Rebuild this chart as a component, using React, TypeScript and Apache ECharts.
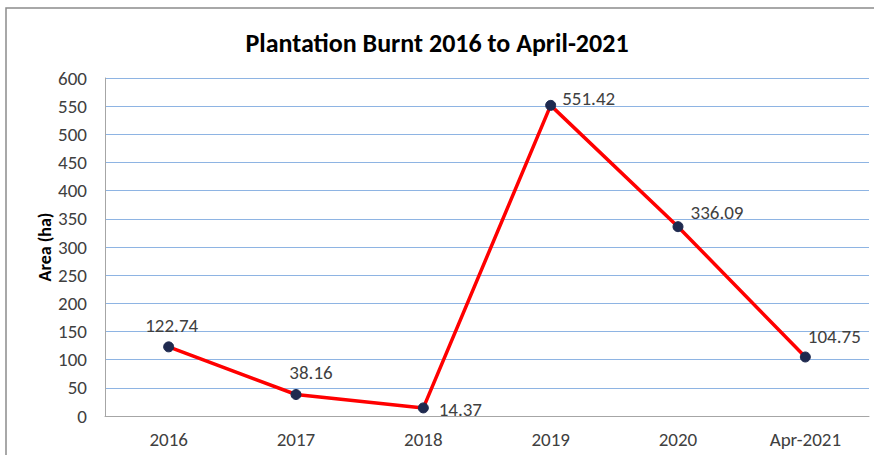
import React, { useEffect, useRef } from "react";
import * as echarts from "echarts";

const categories = ["2016", "2017", "2018", "2019", "2020", "Apr-2021"];
const areaValues = [122.74, 38.16, 14.37, 551.42, 336.09, 104.75];
const yTicks = [0, 50, 100, 150, 200, 250, 300, 350, 400, 450, 500, 550, 600];

// label offsets (styling), relative to each point
const labelOffsets: [number, number][] = [
  [3, -21],
  [15, -22],
  [37, 2],
  [38, -7],
  [39, -14],
  [29, -20],
];

const FONT = "Carlito, 'Liberation Sans', Arial, sans-serif";

export default function App() {
  const ref = useRef<HTMLDivElement>(null);
  useEffect(() => {
    document.body.style.margin = "0";
    if (!ref.current) return;
    const chart = echarts.init(ref.current, undefined, { renderer: "svg" });
    chart.setOption({
      animation: false,
      backgroundColor: "#ffffff",
      title: {
        text: "Plantation Burnt 2016 to April-2021",
        left: "center",
        top: 25,
        textStyle: { fontFamily: FONT, fontSize: 26, fontWeight: "bold", color: "#000000" },
      },
      graphic: [
        {
          type: "rect",
          shape: { x: 6, y: 8, width: 900, height: 500 },
          style: { fill: "none", stroke: "#8c8c8c", lineWidth: 1.5 },
          silent: true,
        },
      ],
      grid: { left: 105, right: 5, top: 78, bottom: 39 },
      xAxis: {
        type: "category",
        data: categories,
        boundaryGap: true,
        axisLine: { show: true, lineStyle: { color: "#a6a6a6", width: 1 } },
        axisTick: { show: false },
        axisLabel: { fontFamily: FONT, fontSize: 19, color: "#404040", margin: 14 },
        splitLine: { show: false },
      },
      yAxis: {
        type: "value",
        min: yTicks[0],
        max: yTicks[yTicks.length - 1],
        interval: yTicks[1] - yTicks[0],
        name: "Area (ha)",
        nameLocation: "middle",
        nameGap: 51,
        nameMoveOverlap: false,
        nameRotate: 90,
        nameTextStyle: { fontFamily: FONT, fontSize: 18, fontWeight: "bold", color: "#000000" },
        axisLine: { show: true, lineStyle: { color: "#a6a6a6", width: 1 } },
        axisTick: { show: false },
        axisLabel: { fontFamily: FONT, fontSize: 19, color: "#404040", margin: 18 },
        splitLine: { show: true, lineStyle: { color: "#8eb4e3", width: 1 } },
      },
      series: [
        {
          type: "line",
          data: areaValues.map((v, i) => ({
            value: v,
            label: { offset: labelOffsets[i] },
          })),
          lineStyle: { color: "#ff0000", width: 3.5 },
          itemStyle: { color: "#1f2a4f", borderColor: "#1f2a4f", borderWidth: 1 },
          symbol: "circle",
          symbolSize: 10,
          label: {
            show: true,
            position: "inside",
            fontFamily: FONT,
            fontSize: 19,
            color: "#404040",
            formatter: (p: any) => p.value.toFixed(2),
          },
          z: 3,
        },
      ],
    });
    return () => chart.dispose();
  }, []);
  return <div ref={ref} style={{ width: 874, height: 455 }} />;
}
